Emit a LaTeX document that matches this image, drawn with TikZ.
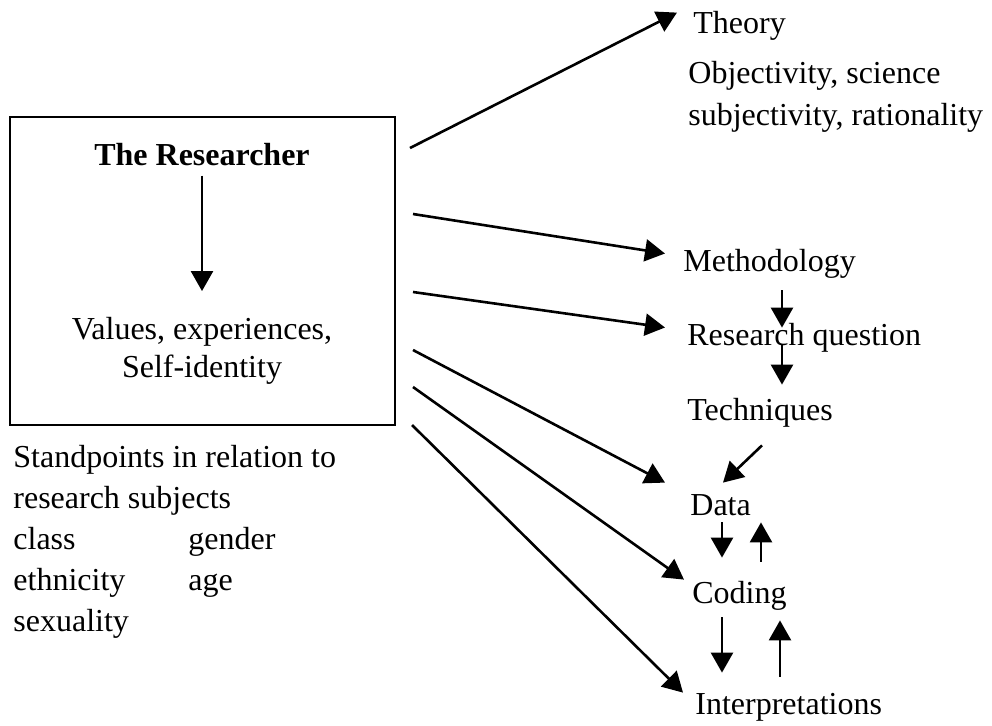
\documentclass[tikz,border=0pt]{standalone}
\usepackage{fontspec}
\setmainfont{Liberation Serif}
\usepackage{tikz}
\usetikzlibrary{arrows.meta,positioning}
\tikzset{
  frame/.style={draw, line width=0.9pt, minimum width=192.5pt, minimum height=154pt, inner sep=0pt},
  stage/.style={font=\fontsize{16}{20}\selectfont, anchor=base west, inner sep=0pt,
    text height=11pt, text depth=3.5pt},
  note/.style={font=\fontsize{16}{20.5}\selectfont, align=left, anchor=north west, inner sep=0pt},
  flow/.style={-{Triangle[length=10pt,width=11pt]}, line width=1.3pt}
}

\begin{document}
\begin{tikzpicture}[x=0.5pt, y=-0.5pt]
  \useasboundingbox (0,0) rectangle (992,725);
  % the researcher
  \node[frame] (box) at (202.5,271) {};
  \node[font=\fontsize{16}{20}\selectfont\bfseries, anchor=base, inner sep=0pt] (researcher) at (202,165) {The Researcher};
  \node[font=\fontsize{16}{19}\selectfont, align=center, inner sep=0pt] (values) at (202,351) {Values, experiences,\\Self-identity};
  \draw[flow] ([yshift=-5pt]researcher.south) -- ([yshift=13pt]values.north);
  \node[note] (standpoints) at (13,445) {Standpoints in relation to\\research subjects\\\makebox[87.5pt][l]{class}gender\\\makebox[87.5pt][l]{ethnicity}age\\sexuality};

  % research process
  \node[stage] (theory) at (693,33) {Theory};
  \node[note, font=\fontsize{16}{21}\selectfont] (ideas) at (688,61) {Objectivity, science\\subjectivity, rationality};
  \node[stage] (meth) at (683,271) {Methodology};
  \node[stage] (question) at (687,345) {Research question};
  \node[stage] (tech) at (687,420) {Techniques};
  \node[stage] (data) at (690,515) {Data};
  \node[stage] (coding) at (692,603) {Coding};
  \node[stage] (interp) at (695,714) {Interpretations};

  % influences
  \coordinate (o1) at (410,148);
  \coordinate (o2) at (413,214);
  \coordinate (o3) at (413,292);
  \coordinate (o4) at (413,350);
  \coordinate (o5) at (413,387);
  \coordinate (o6) at (412,425);
  \draw[flow] (o1) -- ([shift={(-8pt,-1pt)}]theory.north west);
  \draw[flow] (o2) -- ([shift={(-9pt,5pt)}]meth.west);
  \draw[flow] (o3) -- ([shift={(-11pt,5pt)}]question.west);
  \draw[flow] (o4) -- ([shift={(-12.5pt,5pt)}]data.north west);
  \draw[flow] (o5) -- ([shift={(-4pt,0.5pt)}]coding.north west);
  \draw[flow] (o6) -- ([shift={(-6pt,-0.5pt)}]interp.north west);

  % steps
  \draw[flow] ([shift={(49.5pt,-6pt)}]meth.south west) -- ([shift={(47.5pt,-2.5pt)}]question.north west);
  \draw[flow] ([shift={(47.5pt,3.5pt)}]question.south west) -- ([shift={(47.5pt,6.5pt)}]tech.north west);
  \draw[flow] ([shift={(37.5pt,-9pt)}]tech.south west) -- ([shift={(16.5pt,5pt)}]data.north west);
  \draw[flow] ([shift={(16pt,0pt)}]data.south west) -- ([shift={(15pt,11.5pt)}]coding.north west);
  \draw[flow] ([shift={(34.5pt,9.5pt)}]coding.north west) -- ([shift={(35.5pt,0pt)}]data.south west);
  \draw[flow] ([shift={(15pt,-3.5pt)}]coding.south west) -- ([shift={(13.5pt,9.5pt)}]interp.north west);
  \draw[flow] ([shift={(42.5pt,7.5pt)}]interp.north west) -- ([shift={(44pt,-5pt)}]coding.south west);
\end{tikzpicture}
\end{document}
